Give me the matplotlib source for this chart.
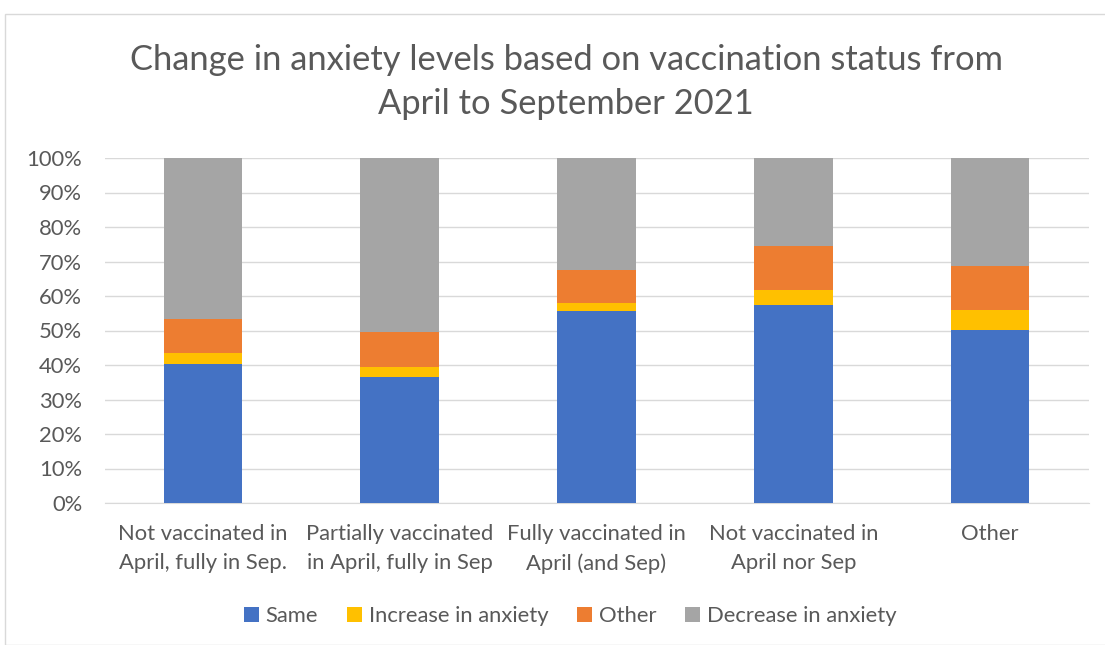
import matplotlib
matplotlib.use("Agg")
import matplotlib.pyplot as plt
from matplotlib.patches import Rectangle
import numpy as np

categories = ["Not vaccinated in\nApril, fully in Sep.",
              "Partially vaccinated\nin April, fully in Sep",
              "Fully vaccinated in\nApril (and Sep)",
              "Not vaccinated in\nApril nor Sep",
              "Other"]
series_names = ["Same", "Increase in anxiety", "Other", "Decrease in anxiety"]
same = [40.4, 36.5, 55.7, 57.4, 50.1]
increase = [3.1, 2.9, 2.4, 4.3, 5.9]
other = [9.7, 10.1, 9.5, 12.7, 12.6]
decrease = [46.8, 50.5, 32.4, 25.6, 31.4]
colors = ["#4472C4", "#FFC000", "#ED7D31", "#A5A5A5"]

plt.rcParams['font.family'] = ['Lato', 'DejaVu Sans']
txt = "#595959"
fs = 15.8

fig = plt.figure(figsize=(11.05, 6.45), dpi=100)
W, H = 1105, 645
fig.patches.append(Rectangle((5 / W, 0), 1.2, 1 - 14 / H, transform=fig.transFigure,
                             fill=False, edgecolor="#D9D9D9", linewidth=1.0))
ax = fig.add_axes([104.5 / W, 1 - 503 / H, 984 / W, 345 / H])

x = np.arange(len(categories))
bottom = np.zeros(len(categories))
for name, vals, c in zip(series_names, [same, increase, other, decrease], colors):
    v = np.array(vals) / 100.0
    ax.bar(x, v, width=0.4, bottom=bottom, color=c, label=name, zorder=3)
    bottom += v

ax.set_xlim(-0.5, len(categories) - 0.5)
ax.set_ylim(0, 1.0)
ax.set_yticks(np.arange(0, 1.01, 0.1))
ax.set_yticklabels([f"{int(round(t*100))}%" for t in np.arange(0, 1.01, 0.1)])
ax.set_xticks(x)
ax.set_xticklabels(categories, linespacing=1.55)
ax.tick_params(axis='both', length=0, labelsize=fs, colors=txt)
ax.tick_params(axis='x', pad=15)
ax.tick_params(axis='y', pad=16)
ax.grid(axis='y', color="#D9D9D9", linewidth=1.0, zorder=0)
for s in ["top", "right", "left"]:
    ax.spines[s].set_visible(False)
ax.spines["bottom"].set_color("#D9D9D9")

fig.text(566 / W, 1 - 82 / H, "Change in anxiety levels based on vaccination status from\nApril to September 2021",
         ha="center", va="center", fontsize=24.8, color=txt, linespacing=1.45)

leg = fig.legend(loc="center", bbox_to_anchor=(570 / W, 1 - 616 / H), ncol=4, frameon=False,
                 fontsize=fs, handlelength=0.7, handleheight=0.7, handletextpad=0.3,
                 columnspacing=1.3)
for t in leg.get_texts():
    t.set_color(txt)

fig.savefig("out.png", dpi=100, facecolor="white")
